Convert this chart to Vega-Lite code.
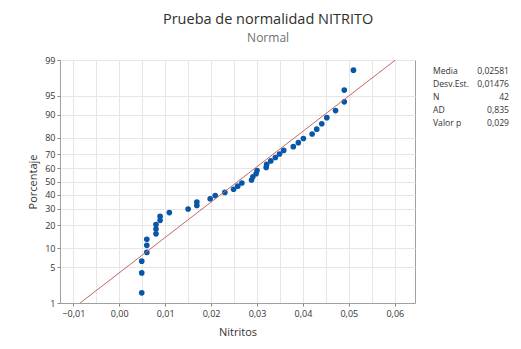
{
  "$schema": "https://vega.github.io/schema/vega-lite/v6.json",
  "padding": {"left": 27, "top": 12, "right": 5, "bottom": 5},
  "background": "white",
  "config": {
    "font": "Open Sans",
    "axis": {"labelFont": "Open Sans", "titleFont": "Open Sans"},
    "concat": {"spacing": 17}
  },
  "title": {
    "text": "Prueba de normalidad NITRITO",
    "subtitle": "Normal",
    "anchor": "middle",
    "fontSize": 14.5,
    "fontWeight": "normal",
    "color": "#2e2e2e",
    "subtitleFontSize": 12,
    "subtitleColor": "#707070",
    "subtitlePadding": 5,
    "offset": 11
  },
  "hconcat": [
    {
      "width": 355,
      "height": 243,
      "view": {"stroke": "#a0a0a0"},
      "layer": [
        {
          "data": {
            "values": [
              {"nitritos": 0.0049, "pct": 1.651},
              {"nitritos": 0.0049, "pct": 4.009},
              {"nitritos": 0.0049, "pct": 6.368},
              {"nitritos": 0.0060, "pct": 8.726},
              {"nitritos": 0.0060, "pct": 11.085},
              {"nitritos": 0.0060, "pct": 13.443},
              {"nitritos": 0.0080, "pct": 15.802},
              {"nitritos": 0.0080, "pct": 18.160},
              {"nitritos": 0.0080, "pct": 20.519},
              {"nitritos": 0.0089, "pct": 22.877},
              {"nitritos": 0.0089, "pct": 25.236},
              {"nitritos": 0.0109, "pct": 27.594},
              {"nitritos": 0.0150, "pct": 29.953},
              {"nitritos": 0.0169, "pct": 32.311},
              {"nitritos": 0.0169, "pct": 34.670},
              {"nitritos": 0.0198, "pct": 37.028},
              {"nitritos": 0.0209, "pct": 39.387},
              {"nitritos": 0.0230, "pct": 41.745},
              {"nitritos": 0.0249, "pct": 44.104},
              {"nitritos": 0.0258, "pct": 46.462},
              {"nitritos": 0.0267, "pct": 48.821},
              {"nitritos": 0.0288, "pct": 51.179},
              {"nitritos": 0.0291, "pct": 53.538},
              {"nitritos": 0.0298, "pct": 55.896},
              {"nitritos": 0.0300, "pct": 58.255},
              {"nitritos": 0.0320, "pct": 60.613},
              {"nitritos": 0.0321, "pct": 62.972},
              {"nitritos": 0.0330, "pct": 65.330},
              {"nitritos": 0.0340, "pct": 67.689},
              {"nitritos": 0.0349, "pct": 70.047},
              {"nitritos": 0.0358, "pct": 72.406},
              {"nitritos": 0.0379, "pct": 74.764},
              {"nitritos": 0.0390, "pct": 77.123},
              {"nitritos": 0.0401, "pct": 79.481},
              {"nitritos": 0.0420, "pct": 81.840},
              {"nitritos": 0.0430, "pct": 84.198},
              {"nitritos": 0.0441, "pct": 86.557},
              {"nitritos": 0.0452, "pct": 88.915},
              {"nitritos": 0.0471, "pct": 91.274},
              {"nitritos": 0.0490, "pct": 93.632},
              {"nitritos": 0.0490, "pct": 95.991},
              {"nitritos": 0.0510, "pct": 98.349}
            ]
          },
          "transform": [{"calculate": "quantileNormal(datum.pct / 100)", "as": "z"}],
          "mark": {"type": "point", "filled": true, "size": 32, "opacity": 1, "color": "#0856a8"},
          "encoding": {
            "x": {
              "field": "nitritos",
              "type": "quantitative",
              "scale": {"domain": [-0.0129, 0.0644], "nice": false, "zero": false},
              "axis": {
                "title": "Nitritos",
                "titleFontSize": 11,
                "titleFontWeight": "normal",
                "titleColor": "#333333",
                "titlePadding": 8,
                "values": [-0.01, -0.005, 0, 0.005, 0.01, 0.015, 0.02, 0.025, 0.03, 0.035, 0.04, 0.045, 0.05, 0.055, 0.06],
                "tickCount": 30,
                "labelExpr": "round(datum.value * 200) % 2 != 0 ? '' : replace(format(datum.value, '.2f'), '.', ',')",
                "labelFontSize": 9,
                "labelColor": "#333333",
                "labelPadding": 3,
                "labelOverlap": false,
                "tickSize": 3,
                "tickColor": "#888888",
                "tickOpacity": {"condition": {"test": "round(datum.value * 200) % 2 != 0", "value": 0}, "value": 1},
                "domainColor": "#a0a0a0",
                "grid": true,
                "gridColor": "#e6e6e6"
              }
            },
            "y": {
              "field": "z",
              "type": "quantitative",
              "scale": {"domain": [-2.3263, 2.3263], "nice": false, "zero": false},
              "axis": {
                "title": "Porcentaje",
                "titleFontSize": 11,
                "titleFontWeight": "normal",
                "titleColor": "#333333",
                "titlePadding": 6,
                "values": [-2.3263, -1.6449, -1.2816, -0.8416, -0.5244, -0.2533, 0, 0.2533, 0.5244, 0.8416, 1.2816, 1.6449, 2.3263],
                "tickCount": 30,
                "labelExpr": "format(round(cumulativeNormal(datum.value) * 100), 'd')",
                "labelFontSize": 9,
                "labelColor": "#333333",
                "labelPadding": 2,
                "labelOverlap": false,
                "labelFlush": false,
                "tickSize": 3,
                "tickColor": "#888888",
                "domainColor": "#a0a0a0",
                "grid": true,
                "gridColor": "#e6e6e6"
              }
            }
          }
        },
        {
          "data": {
            "values": [
              {"nitritos": -0.008526, "pct": 1},
              {"nitritos": 0.060146, "pct": 99}
            ]
          },
          "transform": [{"calculate": "quantileNormal(datum.pct / 100)", "as": "z"}],
          "mark": {"type": "line", "color": "#c46663", "strokeWidth": 1, "clip": true},
          "encoding": {
            "x": {"field": "nitritos", "type": "quantitative"},
            "y": {"field": "z", "type": "quantitative"}
          }
        }
      ]
    },
    {
      "width": 76,
      "height": 243,
      "view": {"stroke": null},
      "data": {
        "values": [
          {"row": 1, "label": "Media", "value": "0,02581"},
          {"row": 2, "label": "Desv.Est.", "value": "0,01476"},
          {"row": 3, "label": "N", "value": "42"},
          {"row": 4, "label": "AD", "value": "0,835"},
          {"row": 5, "label": "Valor p", "value": "0,029"}
        ]
      },
      "encoding": {
        "y": {"field": "row", "type": "quantitative", "scale": {"domain": [0.15, 18.85], "reverse": true}, "axis": null}
      },
      "layer": [
        {
          "mark": {"type": "text", "align": "left", "baseline": "middle", "fontSize": 8.6, "color": "#333333"},
          "encoding": {
            "x": {"datum": 0, "type": "quantitative", "scale": {"domain": [0, 1]}, "axis": null},
            "text": {"field": "label"}
          }
        },
        {
          "mark": {"type": "text", "align": "right", "baseline": "middle", "fontSize": 8.6, "color": "#333333"},
          "encoding": {
            "x": {"datum": 1, "type": "quantitative"},
            "text": {"field": "value"}
          }
        }
      ]
    }
  ]
}
